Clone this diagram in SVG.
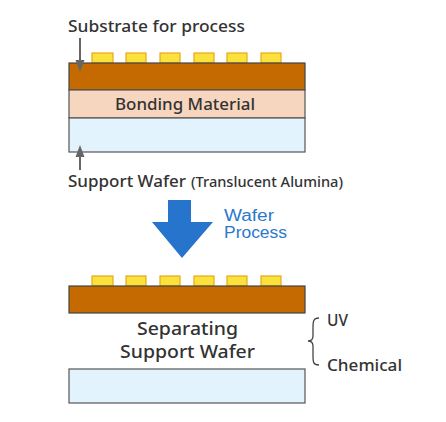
<svg xmlns="http://www.w3.org/2000/svg" width="446" height="422" viewBox="0 0 446 422">
<style>
text{font-family:"Noto Sans","Liberation Sans",sans-serif;fill:#333;font-weight:500}
.chip{fill:#fbe13c;stroke:#e9a81c;stroke-width:1.2}
.sub{fill:#c46a00;stroke:#444;stroke-width:1.2}
.bond{fill:#f6d6be;stroke:#555;stroke-width:1.2}
.wafer{fill:#e3f3fd;stroke:#555;stroke-width:1.2}
.lbl{font-size:17px}
.blue{fill:#2b78cc;font-family:"Liberation Sans",Arial,sans-serif;font-size:16px;font-weight:normal}
.ah{fill:#666}
</style>
<defs>
<g id="chips">
<rect class="chip" x="92" y="0" width="21" height="10"/>
<rect class="chip" x="126" y="0" width="20" height="10"/>
<rect class="chip" x="160" y="0" width="20" height="10"/>
<rect class="chip" x="194" y="0" width="20" height="10"/>
<rect class="chip" x="227" y="0" width="20" height="10"/>
<rect class="chip" x="261" y="0" width="20" height="10"/>
</g>
</defs>
<g id="top-stack">
<use href="#chips" y="53"/>
<rect class="sub" x="69" y="63" width="236" height="27"/>
<rect class="bond" x="69" y="90" width="236" height="28"/>
<rect class="wafer" x="69" y="118" width="236" height="34"/>
<text class="lbl" x="115" y="110" textLength="140" lengthAdjust="spacingAndGlyphs">Bonding Material</text>
</g>
<g id="labels">
<text class="lbl" x="68" y="32" textLength="177" lengthAdjust="spacingAndGlyphs">Substrate for process</text>
<text class="lbl" x="68" y="187" textLength="118" lengthAdjust="spacingAndGlyphs">Support Wafer</text>
<text x="191" y="187" font-size="14" textLength="152" lengthAdjust="spacingAndGlyphs">(Translucent Alumina)</text>
</g>
<g id="connectors">
<line x1="80" y1="38" x2="80" y2="62" stroke="#666" stroke-width="2"/>
<path class="ah" d="M75.5,60H84.5L80,72z"/>
<line x1="80" y1="170" x2="80" y2="155" stroke="#666" stroke-width="2"/>
<path class="ah" d="M75.5,157H84.5L80,145z"/>
</g>
<g id="process-arrow">
<path d="M168,200H191V222H213L182,258L152,222H168z" fill="#2774cc"/>
<text class="blue" x="224" y="221" textLength="50" lengthAdjust="spacingAndGlyphs">Wafer</text>
<text class="blue" x="224" y="238" textLength="63" lengthAdjust="spacingAndGlyphs">Process</text>
</g>
<g id="bottom-stack">
<use href="#chips" y="276"/>
<rect class="sub" x="69" y="286" width="236" height="27"/>
<rect class="wafer" x="69" y="369" width="236" height="34"/>
<text x="137" y="335" font-size="18" textLength="101" lengthAdjust="spacingAndGlyphs">Separating</text>
<text x="120" y="358" font-size="18" textLength="135" lengthAdjust="spacingAndGlyphs">Support Wafer</text>
</g>
<g id="methods">
<path d="M319,318C313,318 313,322 313,328V336Q313,341 308,341Q313,341 313,346V355C313,362 313,365 319,365" fill="none" stroke="#444" stroke-width="1.3"/>
<text class="lbl" x="327" y="326" textLength="21" lengthAdjust="spacingAndGlyphs">UV</text>
<text class="lbl" x="327" y="371" textLength="75" lengthAdjust="spacingAndGlyphs">Chemical</text>
</g>
</svg>
